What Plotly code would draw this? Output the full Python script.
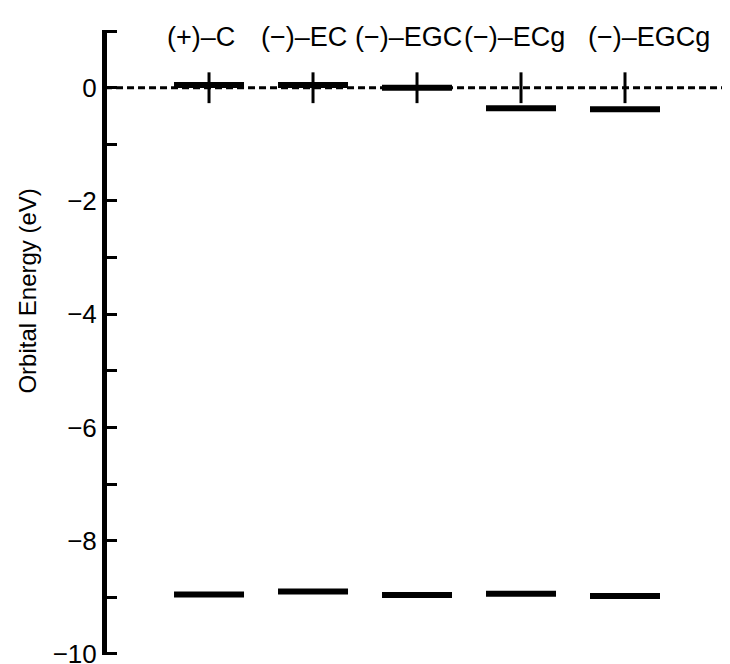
import plotly.graph_objects as go

# ---- data ----
molecules = ["(+)–C", "(−)–EC", "(−)–EGC", "(−)–ECg", "(−)–EGCg"]
positions = [1, 2, 3, 4, 5]
lumo = [0.05, 0.05, 0.0, -0.36, -0.38]
homo = [-8.95, -8.90, -8.96, -8.94, -8.98]
y_tickvals = [-10, -9, -8, -7, -6, -5, -4, -3, -2, -1, 0, 1]
y_ticktext = ["−10", "", "−8", "", "−6", "", "−4", "", "−2", "", "0", ""]

FONT = "Liberation Sans, Arial, Helvetica, sans-serif"

fig = go.Figure()

# dashed reference line at 0 eV
xmax = positions[-1] + 1
fig.add_trace(go.Scatter(
    x=[0, xmax], y=[0, 0], mode="lines",
    line=dict(color="black", width=3.2, dash="7px,4px"),
    hoverinfo="skip", showlegend=False, cliponaxis=False))

# category ticks on the dashed line
fig.add_trace(go.Scatter(
    x=positions + [xmax], y=[0] * (len(positions) + 1), mode="markers",
    marker=dict(symbol="line-ns", size=22, line=dict(color="black", width=3)),
    hoverinfo="skip", showlegend=False, cliponaxis=False))

# LUMO levels
fig.add_trace(go.Scatter(
    x=positions, y=lumo, mode="markers", name="LUMO",
    marker=dict(symbol="line-ew", size=50, line=dict(color="black", width=6)),
    showlegend=False, cliponaxis=False))

# HOMO levels
fig.add_trace(go.Scatter(
    x=positions, y=homo, mode="markers", name="HOMO",
    marker=dict(symbol="line-ew", size=50, line=dict(color="black", width=6)),
    showlegend=False, cliponaxis=False))

# molecule labels along the top
label_shift = [-0.077, -0.087, -0.082, -0.067, 0.23]
for p, name, s in zip(positions, molecules, label_shift):
    fig.add_annotation(x=p + s, y=0.89, xref="x", yref="y", text=name,
                       showarrow=False, xanchor="center", yanchor="middle",
                       font=dict(family=FONT, size=27, color="black"))

# y-axis title
fig.add_annotation(x=0, y=-3.6, xref="paper", yref="y", xshift=-79,
                   text="Orbital Energy (eV)", textangle=-90, showarrow=False,
                   xanchor="center", yanchor="middle",
                   font=dict(family=FONT, size=24, color="black"))

fig.update_layout(
    width=722, height=656,
    margin=dict(l=99, r=1, t=22, b=9),
    paper_bgcolor="white", plot_bgcolor="white",
    font=dict(family=FONT, size=26, color="black"),
    xaxis=dict(range=[0.019, xmax], showgrid=False, zeroline=False,
               showline=False, showticklabels=False, ticks="",
               automargin=False),
    yaxis=dict(range=[-10.02, 1.02], showgrid=False, zeroline=False,
               showline=True, linecolor="black", linewidth=5,
               tickmode="array", tickvals=y_tickvals, ticktext=y_ticktext,
               ticks="inside", ticklen=10, tickwidth=3, tickcolor="black",
               ticklabeloverflow="allow", automargin=False,
               tickfont=dict(family=FONT, size=26, color="black")),
)

fig.write_html("out.html")
